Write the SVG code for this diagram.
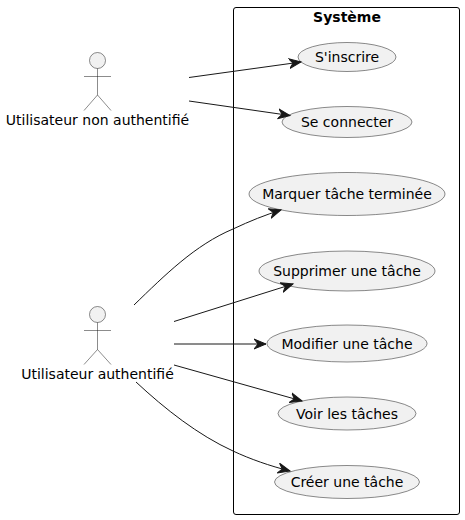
<svg xmlns="http://www.w3.org/2000/svg" width="465" height="520" viewBox="0 0 465 520">
<style>
text{font-family:"DejaVu Sans",sans-serif;font-size:14px;fill:#000;text-anchor:middle}
.uc{fill:#F1F1F1;stroke:#181818;stroke-width:.5}
.ac{fill:none;stroke:#181818;stroke-width:.5}
.hd{fill:#F1F1F1;stroke:#181818;stroke-width:.5}
.ln{fill:none;stroke:#181818;stroke-width:1}
</style>
<defs>
<marker id="a" markerUnits="userSpaceOnUse" markerWidth="14" markerHeight="12" viewBox="0 0 14 12" refX="12" refY="6" orient="auto"><path d="M0 1 L12 6 L0 11 L4 6 Z" fill="#181818" stroke="#181818" stroke-width="1"/></marker>
</defs>
<g id="systeme"><rect x="233.500" y="7.500" width="226" height="507" rx="2.500" fill="none" stroke="#000" stroke-width="1"/><text x="347" y="22" style="font-weight:bold">Système</text></g>
<g id="actor1"><circle class="hd" cx="97.500" cy="60.500" r="8"/><path class="ac" d="M97.500 68.500V95M84 76.500H111M97.500 95L84 110.500M97.500 95L111 110.500"/><text x="97.500" y="125">Utilisateur non authentifié</text></g>
<g id="actor2"><circle class="hd" cx="97.500" cy="314.500" r="8"/><path class="ac" d="M97.500 322.500V349.500M84 330.500H111M97.500 349.500L84 364.500M97.500 349.500L111 364.500"/><text x="97.500" y="379">Utilisateur authentifié</text></g>
<g id="uc1"><ellipse class="uc" cx="347" cy="57" rx="49" ry="14.500"/><text x="347" y="62">S'inscrire</text></g>
<g id="uc2"><ellipse class="uc" cx="347" cy="122" rx="65" ry="15.500"/><text x="347" y="127">Se connecter</text></g>
<g id="uc3"><ellipse class="uc" cx="347" cy="194" rx="98" ry="21.500"/><text x="347" y="199">Marquer tâche terminée</text></g>
<g id="uc4"><ellipse class="uc" cx="347" cy="271" rx="88" ry="20"/><text x="347" y="276">Supprimer une tâche</text></g>
<g id="uc5"><ellipse class="uc" cx="347" cy="343.500" rx="80" ry="18.500"/><text x="347" y="349">Modifier une tâche</text></g>
<g id="uc6"><ellipse class="uc" cx="347" cy="413.500" rx="69" ry="16.500"/><text x="347" y="419">Voir les tâches</text></g>
<g id="uc7"><ellipse class="uc" cx="347" cy="482" rx="72.500" ry="16.500"/><text x="347" y="487">Créer une tâche</text></g>
<g id="connectors">
<path class="ln" marker-end="url(#a)" d="M189 77.500L301 62"/>
<path class="ln" marker-end="url(#a)" d="M189 101L290 115.500"/>
<path class="ln" marker-end="url(#a)" d="M134 305C165 275 195 245 233 229C250 221 265 215 281 210"/>
<path class="ln" marker-end="url(#a)" d="M174 321.500L293 284"/>
<path class="ln" marker-end="url(#a)" d="M174 344H266"/>
<path class="ln" marker-end="url(#a)" d="M174 365L302 401"/>
<path class="ln" marker-end="url(#a)" d="M136 382C165 409 198 435 233 451C250 459 270 466 290 471"/>
</g>
</svg>
